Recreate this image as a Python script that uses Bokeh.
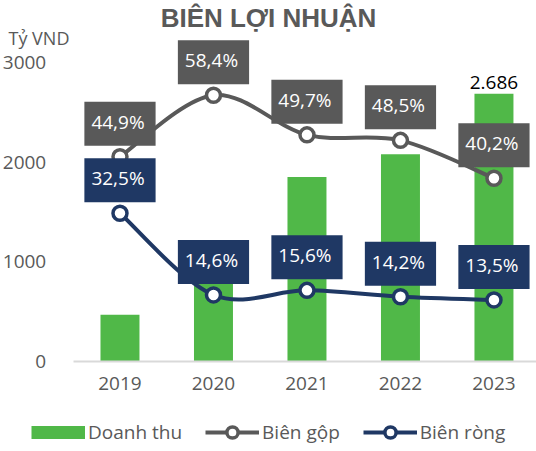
from bokeh.plotting import figure
from bokeh.models import (Range1d, LinearAxis, FixedTicker, ColumnDataSource,
                          Label, Legend, LegendItem)
from bokeh.embed import file_html
from bokeh.resources import INLINE

# ---- data ----
years = ["2019", "2020", "2021", "2022", "2023"]
doanh_thu = [470, 1190, 1850, 2080, 2686]
bien_gop = [44.9, 58.4, 49.7, 48.5, 40.2]
bien_rong = [32.5, 14.6, 15.6, 14.2, 13.5]
y_ticks = [0, 1000, 2000, 3000]

GREEN = "#50B848"
GRAY = "#595959"
NAVY = "#1F3864"
FONT = "Open Sans"

W, H = 536, 451
p = figure(width=W, height=H, output_backend="svg", toolbar_location=None,
           x_range=Range1d(-1.278, 4.455), y_range=Range1d(-903, 3622),
           min_border=0, x_axis_type=None, y_axis_type=None)
p.outline_line_color = None
p.xgrid.visible = False
p.ygrid.visible = False
p.extra_y_ranges = {"pct": Range1d(-19.74, 79.17)}

xs = list(range(len(years)))

# axes (drawn at fixed data locations inside the frame)
xax = LinearAxis(ticker=FixedTicker(ticks=xs), fixed_location=0, bounds=(-0.5, 4.455),
                 major_label_overrides={i: y for i, y in enumerate(years)})
xax.axis_line_color = "#D9D9D9"
xax.axis_line_width = 2
xax.major_tick_line_color = None
xax.minor_tick_line_color = None
xax.major_label_text_font = FONT
xax.major_label_text_font_size = "19px"
xax.major_label_text_color = GRAY
xax.major_label_standoff = 10
p.add_layout(xax, "below")

yax = LinearAxis(ticker=FixedTicker(ticks=y_ticks), fixed_location=-0.5)
yax.axis_line_color = None
yax.major_tick_line_color = None
yax.minor_tick_line_color = None
yax.major_label_text_font = FONT
yax.major_label_text_font_size = "19px"
yax.major_label_text_color = GRAY
yax.major_label_standoff = 21
p.add_layout(yax, "left")

# bars
bar_src = ColumnDataSource(dict(x=xs, top=doanh_thu))
bars = p.vbar(x="x", top="top", bottom=0, width=0.417, source=bar_src,
              fill_color=GREEN, line_color=None)
# legend swatch for the bars: a thick line key that draws nothing in the plot
bar_key = p.line(x=[float("nan")], y=[float("nan")], line_color=GREEN, line_width=13,
                 line_cap="butt")


def smooth_segments(ys):
    n = len(ys)
    pts = list(zip(xs, ys))
    d = dict(x0=[], y0=[], x1=[], y1=[], cx0=[], cy0=[], cx1=[], cy1=[])
    for i in range(n - 1):
        p0 = pts[i - 1] if i > 0 else pts[i]
        p1 = pts[i]
        p2 = pts[i + 1]
        p3 = pts[i + 2] if i + 2 < n else pts[i + 1]
        d["x0"].append(p1[0]); d["y0"].append(p1[1])
        d["x1"].append(p2[0]); d["y1"].append(p2[1])
        d["cx0"].append(p1[0] + (p2[0] - p0[0]) / 6); d["cy0"].append(p1[1] + (p2[1] - p0[1]) / 6)
        d["cx1"].append(p2[0] - (p3[0] - p1[0]) / 6); d["cy1"].append(p2[1] - (p3[1] - p1[1]) / 6)
    return ColumnDataSource(d)


series = [("Biên gộp", bien_gop, GRAY), ("Biên ròng", bien_rong, NAVY)]
legend_items = [LegendItem(label="Doanh thu", renderers=[bar_key])]
for name, vals, col in series:
    seg = p.bezier(x0="x0", y0="y0", x1="x1", y1="y1", cx0="cx0", cy0="cy0", cx1="cx1", cy1="cy1",
                   source=smooth_segments(vals), line_color=col, line_width=4, y_range_name="pct")
    pts = p.scatter(x=xs, y=vals, size=14, marker="circle", fill_color="white", line_color=col,
                    line_width=3.5, y_range_name="pct")
    legend_items.append(LegendItem(label=name, renderers=[seg, pts]))

# data labels
for name, vals, col in series:
    for xi, v in zip(xs, vals):
        p.add_layout(Label(x=xi, y=v, text=f"{v:.1f}%".replace(".", ","), y_range_name="pct",
                           y_offset=33, text_align="center", text_baseline="middle",
                           text_color="white", text_font=FONT, text_font_size="19px",
                           background_fill_color=col, padding=(7, 11, 7, 11)))

last = len(xs) - 1
p.add_layout(Label(x=xs[last], y=doanh_thu[last], text=f"{doanh_thu[last]:,}".replace(",", "."),
                   y_offset=5, text_align="center", text_baseline="bottom", text_color="black",
                   text_font=FONT, text_font_size="19px"))

# title and unit
p.add_layout(Label(x=268, y=434, x_units="screen", y_units="screen", text="BIÊN LỢI NHUẬN",
                   text_align="center", text_baseline="middle", text_color=GRAY,
                   text_font="Liberation Sans", text_font_style="bold", text_font_size="26px"))
p.add_layout(Label(x=8, y=414, x_units="screen", y_units="screen", text="Tỷ VND",
                   text_align="left", text_baseline="middle", text_color=GRAY,
                   text_font=FONT, text_font_size="18px"))

legend = Legend(items=legend_items, orientation="horizontal", location=(31, 5),
                glyph_width=54, glyph_height=28, label_standoff=3, spacing=23,
                padding=0, margin=0, border_line_color=None, background_fill_alpha=0,
                label_text_font=FONT, label_text_font_size="19px", label_text_color=GRAY)
p.add_layout(legend, "center")

open("out.html", "w").write(file_html(p, INLINE))
